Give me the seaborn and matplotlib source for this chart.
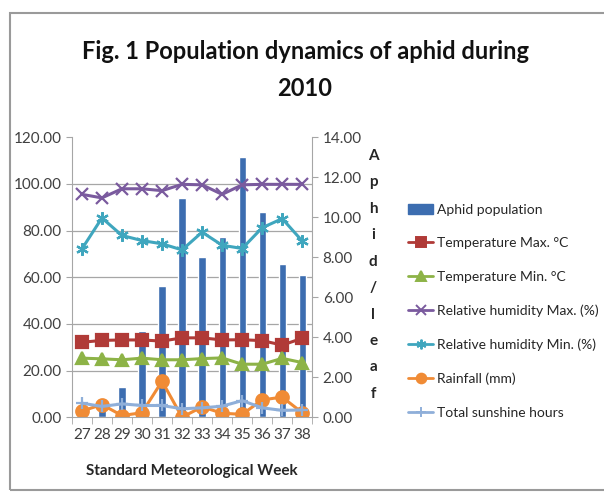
import numpy as np
import pandas as pd
import matplotlib
matplotlib.use('Agg')
import matplotlib.pyplot as plt
import seaborn as sns
from matplotlib.lines import Line2D
from matplotlib.patches import Patch, Rectangle

# ==================== Data ====================
weeks = ['27', '28', '29', '30', '31', '32', '33', '34', '35', '36', '37', '38']
aphid = [0.1, 0.4, 1.5, 4.3, 6.55, 10.95, 8.0, 9.0, 13.0, 10.25, 7.65, 7.1]
temp_max = [32.1, 32.9, 33.1, 33.1, 32.6, 34.0, 34.0, 33.1, 33.2, 32.8, 30.9, 33.8]
temp_min = [25.3, 25.0, 24.6, 25.3, 24.6, 24.6, 25.1, 25.4, 22.7, 22.7, 25.2, 23.4]
rh_max = [95.5, 94.0, 97.9, 97.9, 97.1, 99.8, 99.6, 95.5, 99.6, 99.8, 99.8, 99.8]
rh_min = [72.1, 85.4, 77.9, 75.7, 74.3, 71.7, 79.3, 73.7, 72.3, 81.2, 85.1, 75.5]
rainfall = [2.6, 5.4, 0.7, 1.9, 15.4, 0.0, 4.4, 1.7, 1.2, 7.4, 8.6, 1.9]
sunshine = [6.0, 4.6, 5.7, 5.0, 5.0, 3.6, 4.0, 4.7, 7.1, 4.0, 2.9, 3.1]

series_names = ['Temperature Max. \u00b0C', 'Temperature Min. \u00b0C',
                'Relative humidity Max. (%)', 'Relative humidity Min. (%)',
                'Rainfall (mm)', 'Total sunshine hours']
series_values = [temp_max, temp_min, rh_max, rh_min, rainfall, sunshine]
colors = ['#B03A37', '#8DB347', '#7A5A9E', '#3FA6BE', '#F08B35', '#8FAFD9']
asterisk = (6, 2, 0)
markers = ['s', '^', 'x', asterisk, 'o', '+']
msizes = [9, 8, 8, 9, 9, 9]

bar_color = '#3C6DB0'
text_color = '#404040'
grid_color = '#a6a6a6'

sns.set_style('white')
plt.rcParams['font.family'] = ['Lato', 'DejaVu Sans']

fig = plt.figure(figsize=(6.04, 4.99), dpi=100)
ax = fig.add_axes([0.119, 0.164, 0.398, 0.561])
ax2 = ax.twinx()

# bars on the secondary axis (aphid / leaf)
bar_df = pd.DataFrame({'week': weeks, 'aphid': aphid})
sns.barplot(data=bar_df, x='week', y='aphid', ax=ax2, color=bar_color,
            width=0.36, saturation=1)

# weather lines on the primary axis
long_df = pd.DataFrame({
    'week': np.tile(weeks, len(series_names)),
    'value': np.concatenate(series_values),
    'series': np.repeat(series_names, len(weeks)),
})
for name, c, m, ms in zip(series_names, colors, markers, msizes):
    sub = long_df[long_df['series'] == name]
    sns.pointplot(data=sub, x='week', y='value', ax=ax, color=c, marker=m,
                  markersize=ms, linewidth=2.2, markeredgewidth=1.6, errorbar=None)

# lines above the bars
ax.set_zorder(ax2.get_zorder() + 1)
ax.patch.set_visible(False)

left_ticks = np.arange(0, 121, 20)
right_ticks = np.arange(0, 15, 2)
ax.set_ylim(0, 120)
ax.set_yticks(left_ticks)
ax.set_yticklabels([f'{v:.2f}' for v in left_ticks])
ax2.set_ylim(0, 14)
ax2.set_yticks(right_ticks)
ax2.set_yticklabels([f'{v:.2f}' for v in right_ticks])
ax.set_xlim(-0.5, len(weeks) - 0.5)

# gridlines follow the left axis but sit behind the bars
ax2.set_yticks(left_ticks * 14 / 120, minor=True)
ax2.grid(axis='y', which='minor', color=grid_color, linewidth=0.9)
ax2.grid(axis='y', which='major', visible=False)
ax2.tick_params(axis='y', which='minor', length=0)
ax2.set_axisbelow(True)

for a in (ax, ax2):
    for s in a.spines.values():
        s.set_visible(False)
    a.tick_params(axis='y', labelsize=11, colors=text_color, length=4, width=0.8)
ax.spines['left'].set_visible(True)
ax.spines['left'].set_color(grid_color)
ax.spines['bottom'].set_visible(True)
ax.spines['bottom'].set_color(grid_color)
ax2.spines['right'].set_visible(True)
ax2.spines['right'].set_color(grid_color)
ax.tick_params(axis='y', left=True, color=grid_color, labelcolor=text_color)
ax2.tick_params(axis='y', which='major', right=True, color=grid_color, labelcolor=text_color)

ax.tick_params(axis='x', labelsize=11, colors=text_color, length=0, pad=8)
ax.set_xticks(range(len(weeks)))
ax.set_xticklabels(weeks)
ax.set_xticks(np.arange(-0.5, len(weeks), 1), minor=True)
ax.tick_params(axis='x', which='minor', bottom=True, length=5, color=grid_color)
ax2.set_xlabel('')
ax.set_ylabel('')
ax2.set_ylabel('')
ax.set_xlabel('Standard Meteorological Week', fontsize=11, fontweight='bold',
              color='#262626', labelpad=16)

# vertical stacked axis label
fig.text(0.618, 0.449, '\n'.join('Aphid/leaf'), ha='center', va='center',
         fontsize=11, fontweight='bold', color='#262626', linespacing=2.13)

fig.text(0.505, 0.86, 'Fig. 1 Population dynamics of aphid during\n2010',
         ha='center', va='center', fontsize=17, fontweight='bold',
         color='#111111', linespacing=1.75)

# legend
handles = [Patch(facecolor=bar_color, edgecolor=bar_color)]
for c, m in zip(colors, markers):
    handles.append(Line2D([0], [0], color=c, marker=m, markersize=7, linewidth=2,
                          markeredgewidth=1.4))
labels = ['Aphid population'] + series_names
fig.legend(handles, labels, loc='upper left', bbox_to_anchor=(0.655, 0.617),
           frameon=False, fontsize=10, labelspacing=1.55, handlelength=1.8,
           handletextpad=0.3, handleheight=0.8)

fig.patches.append(Rectangle((0.017, 0.018), 1.2, 0.955, transform=fig.transFigure,
                             fill=False, edgecolor='#9a9a9a', linewidth=1.5))

plt.savefig('out.png', dpi=100)
plt.close()
